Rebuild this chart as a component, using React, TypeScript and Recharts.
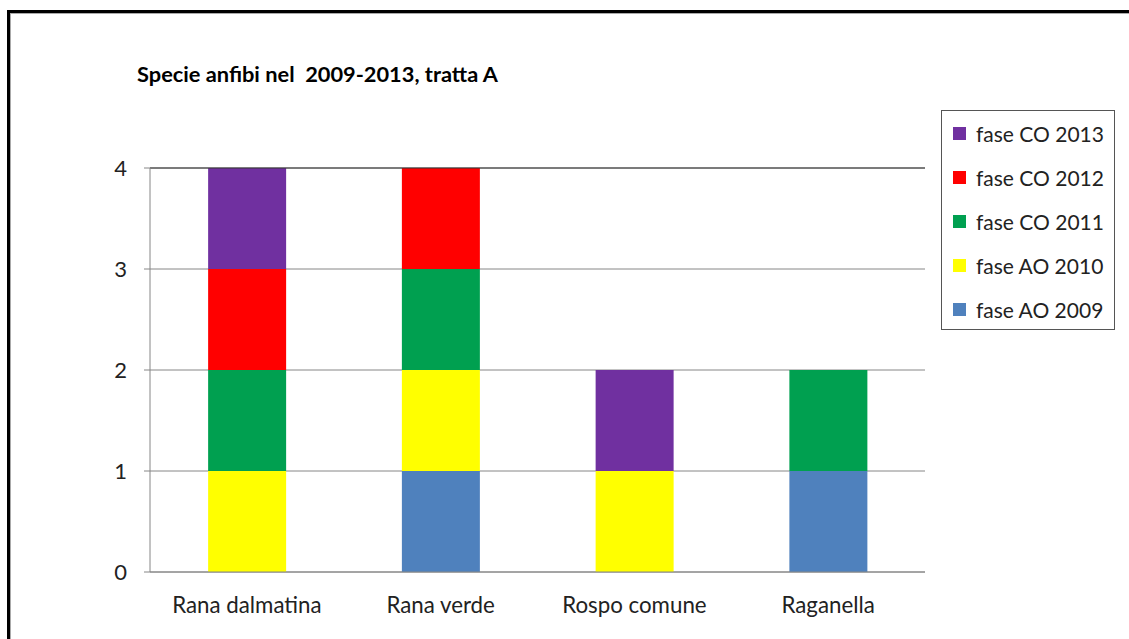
import { BarChart, Bar, XAxis, YAxis, CartesianGrid, ReferenceLine } from 'recharts';

const species = ['Rana dalmatina', 'Rana verde', 'Rospo comune', 'Raganella'];

// one entry per survey phase, values per species (stack order bottom -> top)
const fase2009 = [0, 1, 0, 1];
const fase2010 = [1, 1, 1, 0];
const fase2011 = [1, 1, 0, 1];
const fase2012 = [1, 1, 0, 0];
const fase2013 = [1, 0, 1, 0];

const series = [
    { key: 'ao2009', label: 'fase AO 2009', color: '#4F81BD', values: fase2009 },
    { key: 'ao2010', label: 'fase AO 2010', color: '#FFFF00', values: fase2010 },
    { key: 'co2011', label: 'fase CO 2011', color: '#00A050', values: fase2011 },
    { key: 'co2012', label: 'fase CO 2012', color: '#FF0000', values: fase2012 },
    { key: 'co2013', label: 'fase CO 2013', color: '#7030A0', values: fase2013 },
];

const yTicks = [0, 1, 2, 3, 4];

const data = species.map((name, i) => {
    const row: { [key: string]: any } = { name };
    series.forEach((s) => {
        row[s.key] = s.values[i];
    });
    return row;
});

const FONT = 'Lato, "Noto Sans", sans-serif';

const App = () => {
    return (
        <div
            style={{
                position: 'absolute',
                left: 0,
                top: 0,
                width: 1129,
                height: 639,
                overflow: 'hidden',
                background: '#fff',
                fontFamily: FONT,
            }}
        >
            {/* outer frame */}
            <div
                style={{
                    position: 'absolute',
                    left: 7,
                    top: 10,
                    width: 1140,
                    height: 650,
                    borderLeft: '3px solid #000',
                    borderTop: '3px solid #000',
                }}
            >
                <div
                    style={{
                        position: 'absolute',
                        left: 0,
                        top: 0,
                        right: 0,
                        bottom: 0,
                        borderLeft: '1px solid #aaa',
                        borderTop: '1px solid #aaa',
                    }}
                />
            </div>

            <div
                style={{
                    position: 'absolute',
                    left: 137,
                    top: 60,
                    fontSize: 21.8,
                    fontWeight: 700,
                    color: '#000',
                    whiteSpace: 'pre',
                }}
            >
                Specie anfibi nel  2009-2013, tratta A
            </div>

            <div style={{ position: 'absolute', left: 0, top: 0 }}>
                <BarChart
                    width={1129}
                    height={639}
                    data={data}
                    margin={{ top: 168, right: 204, bottom: 7, left: 2 }}
                    barCategoryGap="30%"
                >
                    <CartesianGrid vertical={false} stroke="#868686" />
                    <XAxis
                        xAxisId="bounds"
                        type="number"
                        domain={[0, 4]}
                        ticks={[0, 1, 2, 3, 4]}
                        height={0}
                        axisLine={false}
                        tickSize={6}
                        tickLine={{ stroke: '#868686' }}
                        tickFormatter={() => ''}
                    />
                    <XAxis
                        dataKey="name"
                        height={60}
                        tickLine={false}
                        axisLine={{ stroke: '#868686' }}
                        tickMargin={19}
                        tick={{ fill: '#222', fontSize: 22.3, fontFamily: FONT }}
                    />
                    <YAxis
                        width={148}
                        domain={[0, 4]}
                        ticks={yTicks}
                        tickSize={6}
                        tickMargin={17}
                        axisLine={{ stroke: '#868686' }}
                        tickLine={{ stroke: '#868686' }}
                        tick={{ fill: '#222', fontSize: 22, fontFamily: FONT }}
                    />
                    {series.map((s) => (
                        <Bar
                            key={s.key}
                            dataKey={s.key}
                            name={s.label}
                            stackId="a"
                            fill={s.color}
                            isAnimationActive={false}
                        />
                    ))}
                    <ReferenceLine y={4} stroke="#333" />
                    <ReferenceLine x={4} xAxisId="bounds" stroke="#333" />
                </BarChart>
            </div>

            {/* legend, newest phase on top */}
            <div
                style={{
                    position: 'absolute',
                    left: 941,
                    top: 110,
                    width: 172,
                    height: 218,
                    border: '1px solid #555',
                    boxSizing: 'content-box',
                }}
            >
                {[...series].reverse().map((s, i) => (
                    <div
                        key={s.key}
                        style={{
                            position: 'absolute',
                            left: 11,
                            top: 9 + i * 44,
                            height: 26,
                            display: 'flex',
                            alignItems: 'center',
                            fontSize: 21,
                            color: '#222',
                            whiteSpace: 'nowrap',
                        }}
                    >
                        <span
                            style={{
                                display: 'inline-block',
                                width: 13,
                                height: 13,
                                background: s.color,
                                marginRight: 10,
                            }}
                        />
                        {s.label}
                    </div>
                ))}
            </div>
        </div>
    );
};

export default App;
